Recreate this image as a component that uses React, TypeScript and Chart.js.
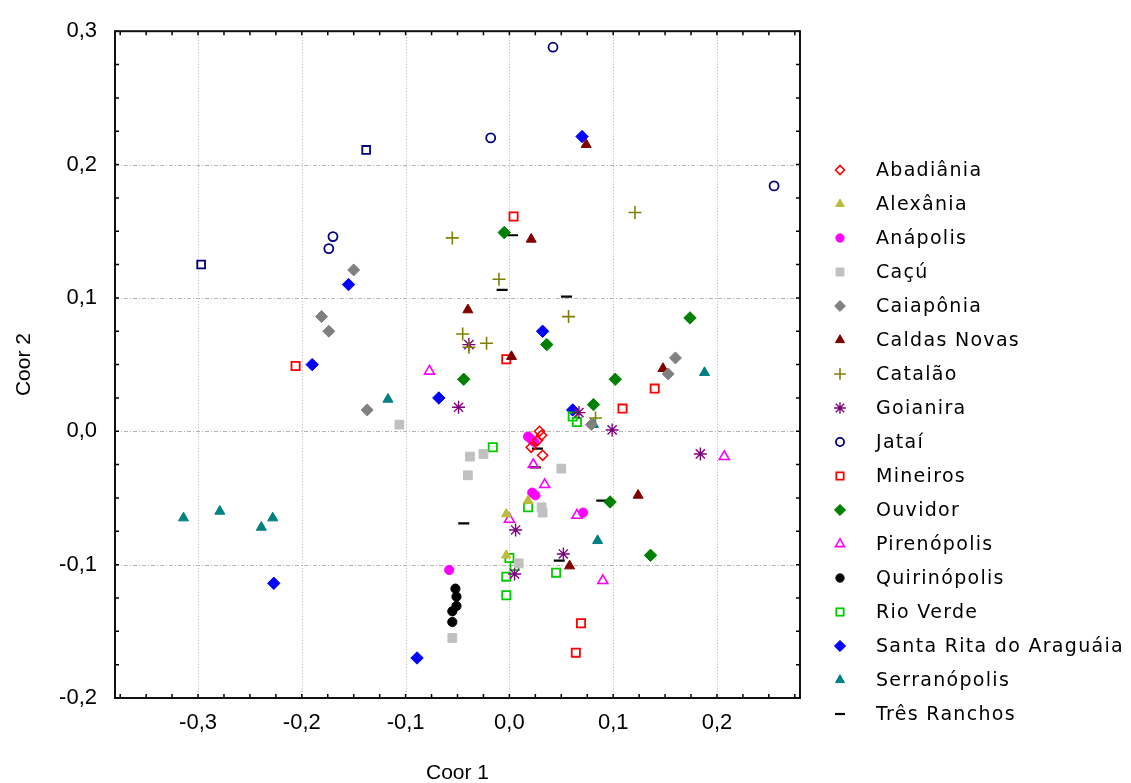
import React, { useEffect, useRef } from 'react';
import { Chart, registerables } from 'chart.js';
import { drawPoint } from 'chart.js/helpers';

Chart.register(...registerables);

// ---- axis ticks ----
const xTicks = [-0.3, -0.2, -0.1, 0, 0.1, 0.2];
const yTicks = [-0.2, -0.1, 0, 0.1, 0.2, 0.3];

// ---- series values [Coor 1, Coor 2] ----
const abadiania = [[0.029, 0.0], [0.031, -0.003], [0.027, -0.007], [0.021, -0.012], [0.032, -0.018]];
const alexania = [[-0.003, -0.062], [-0.003, -0.093], [0.018, -0.052]];
const anapolis = [[0.018, -0.004], [0.021, -0.006], [0.024, -0.008], [0.022, -0.046], [0.025, -0.048], [0.071, -0.061], [-0.058, -0.104]];
const cacu = [[-0.106, 0.005], [-0.038, -0.019], [-0.025, -0.017], [-0.04, -0.033], [0.05, -0.028], [0.031, -0.057], [0.032, -0.061], [0.009, -0.099], [-0.055, -0.155]];
const caiaponia = [[-0.15, 0.121], [-0.181, 0.086], [-0.174, 0.075], [-0.137, 0.016], [0.16, 0.055], [0.153, 0.043], [0.079, 0.005]];
const caldasNovas = [[0.074, 0.215], [0.021, 0.144], [-0.04, 0.091], [0.002, 0.056], [0.148, 0.047], [0.124, -0.048], [0.058, -0.101]];
const catalao = [[-0.055, 0.145], [-0.01, 0.114], [0.121, 0.164], [0.057, 0.086], [-0.045, 0.073], [-0.039, 0.063], [-0.022, 0.066], [0.083, 0.01]];
const goianira = [[-0.049, 0.018], [-0.039, 0.065], [0.099, 0.001], [0.184, -0.017], [0.006, -0.074], [0.052, -0.092], [0.005, -0.107], [0.067, 0.014]];
const jatai = [[0.042, 0.288], [-0.018, 0.22], [0.255, 0.184], [-0.17, 0.146], [-0.174, 0.137]];
const jataiSquares = [[-0.138, 0.211], [-0.297, 0.125]];
const mineiros = [[0.004, 0.161], [-0.206, 0.049], [-0.003, 0.054], [0.109, 0.017], [0.14, 0.032], [0.069, -0.144], [0.064, -0.166]];
const ouvidor = [[-0.005, 0.149], [0.174, 0.085], [0.036, 0.065], [0.102, 0.039], [0.081, 0.02], [-0.044, 0.039], [0.097, -0.053], [0.136, -0.093]];
const pirenopolis = [[-0.077, 0.045], [0.034, -0.04], [0.023, -0.025], [0.065, -0.063], [0.09, -0.112], [0.0, -0.066], [0.207, -0.019]];
const quirinopolis = [[-0.052, -0.118], [-0.051, -0.124], [-0.051, -0.131], [-0.055, -0.135], [-0.055, -0.143]];
const rioVerde = [[-0.016, -0.012], [0.065, 0.007], [0.061, 0.011], [0.018, -0.057], [0.0, -0.095], [0.005, -0.101], [-0.003, -0.109], [-0.003, -0.123], [0.045, -0.106]];
const santaRita = [[0.07, 0.221], [-0.155, 0.11], [-0.19, 0.05], [-0.227, -0.114], [-0.068, 0.025], [0.032, 0.075], [0.061, 0.016], [-0.089, -0.17]];
const serranopolis = [[-0.314, -0.065], [-0.279, -0.06], [-0.239, -0.072], [-0.228, -0.065], [-0.117, 0.024], [0.081, 0.005], [0.188, 0.044], [0.085, -0.082]];
const tresRanchos = [[0.003, 0.147], [-0.007, 0.106], [0.055, 0.101], [0.027, -0.013], [0.025, -0.027], [0.089, -0.052], [-0.044, -0.069], [0.048, -0.097]];

const toXY = (a: number[][]) => a.map(([x, y]) => ({ x, y }));
const OPEN = 'rgba(255,255,255,0)';

// label, data, style, color, filled, radius, borderWidth, inLegend
const series: any[] = [
  ['Abadiânia', abadiania, 'rectRot', '#ff0000', false, 5, 1.6, true],
  ['Alexânia', alexania, 'triangle', '#bcbc3c', true, 5.5, 1, true],
  ['Anápolis', anapolis, 'circle', '#ff00ff', true, 4.6, 1, true],
  ['Caçú', cacu, 'rect', '#c0c0c0', true, 6.2, 1, true],
  ['Caiapônia', caiaponia, 'rectRot', '#808080', true, 6, 1, true],
  ['Caldas Novas', caldasNovas, 'triangle', '#800000', true, 5.8, 1, true],
  ['Catalão', catalao, 'cross', '#808000', false, 6.5, 1.6, true],
  ['Goianira', goianira, 'star', '#800080', false, 6.5, 1.4, true],
  ['Jataí', jatai, 'circle', '#000080', false, 4.5, 1.8, true],
  ['Jataí ', jataiSquares, 'rect', '#000080', false, 5.5, 1.8, false],
  ['Mineiros', mineiros, 'rect', '#ff0000', false, 5.8, 1.8, true],
  ['Ouvidor', ouvidor, 'rectRot', '#008000', true, 6.2, 1, true],
  ['Pirenópolis', pirenopolis, 'triangle', '#ff00ff', false, 5.8, 1.6, true],
  ['Quirinópolis', quirinopolis, 'circle', '#000000', true, 4.6, 1, true],
  ['Rio Verde', rioVerde, 'rect', '#00cc00', false, 5.8, 1.8, true],
  ['Santa Rita do Araguáia', santaRita, 'rectRot', '#0000ff', true, 6.2, 1, true],
  ['Serranópolis', serranopolis, 'triangle', '#008080', true, 5.8, 1, true],
  ['Três Ranchos', tresRanchos, 'line', '#000000', false, 5.5, 2.2, true],
];

const fmt = (v: any) => {
  const r = Math.round(Number(v) * 10) / 10;
  return (r === 0 ? 0 : r).toFixed(1).replace('.', ',');
};

const framePlugin = {
  id: 'frame',
  beforeDatasetsDraw(chart: any) {
    const { ctx, chartArea: a, scales } = chart;
    const xs = scales.x, ys = scales.y;
    ctx.save();
    ctx.strokeStyle = '#b4b4b4';
    ctx.lineWidth = 1;
    ctx.setLineDash([1, 2]);
    xTicks.forEach((v) => {
      const px = Math.round(xs.getPixelForValue(v)) + 0.5;
      ctx.beginPath(); ctx.moveTo(px, a.top); ctx.lineTo(px, a.bottom); ctx.stroke();
    });
    ctx.setLineDash([4, 2, 1, 2]);
    yTicks.slice(1, -1).forEach((v) => {
      const py = Math.round(ys.getPixelForValue(v)) + 0.5;
      ctx.beginPath(); ctx.moveTo(a.left, py); ctx.lineTo(a.right, py); ctx.stroke();
    });
    ctx.restore();
  },
  afterDatasetsDraw(chart: any) {
    const { ctx, chartArea: a, scales } = chart;
    const xs = scales.x, ys = scales.y;
    ctx.save();
    ctx.strokeStyle = '#000';
    ctx.lineWidth = 1.5;
    const L = 4;
    for (let k = -15; k <= 11; k++) {
      const px = xs.getPixelForValue(k * 0.025);
      ctx.beginPath();
      ctx.moveTo(px, a.bottom); ctx.lineTo(px, a.bottom - L);
      ctx.moveTo(px, a.top); ctx.lineTo(px, a.top + L);
      ctx.stroke();
    }
    for (let k = -8; k <= 12; k++) {
      const py = ys.getPixelForValue(k * 0.025);
      ctx.beginPath();
      ctx.moveTo(a.left, py); ctx.lineTo(a.left + L, py);
      ctx.moveTo(a.right, py); ctx.lineTo(a.right - L, py);
      ctx.stroke();
    }
    ctx.lineWidth = 2;
    ctx.strokeStyle = '#111';
    ctx.strokeRect(a.left, a.top, a.right - a.left, a.bottom - a.top);
    ctx.restore();
  },
};

const legendPlugin = {
  id: 'customLegend',
  afterDraw(chart: any) {
    const ctx = chart.ctx;
    let i = 0;
    chart.data.datasets.forEach((ds: any) => {
      if (!ds.inLegend) return;
      const y = 170 + i * 34;
      ctx.save();
      ctx.strokeStyle = ds.borderColor;
      ctx.fillStyle = ds.backgroundColor;
      ctx.lineWidth = ds.borderWidth;
      drawPoint(ctx, { pointStyle: ds.pointStyle, radius: ds.pointRadius * 0.9, borderWidth: ds.borderWidth, rotation: 0 } as any, 840, y);
      ctx.restore();
      ctx.save();
      ctx.font = '19px "DejaVu Sans"';
      try { (ctx as any).letterSpacing = '1.3px'; } catch (e) {}
      ctx.textBaseline = 'middle';
      ctx.textAlign = 'left';
      ctx.fillStyle = '#000';
      ctx.fillText(ds.label.trim(), 876, y + 1);
      ctx.restore();
      i++;
    });
  },
};

export default function App() {
  const ref = useRef<HTMLCanvasElement>(null);
  useEffect(() => {
    const tickFont = { family: '"Liberation Sans", Arial, sans-serif', size: 22 };
    const titleFont = { family: '"Liberation Sans", Arial, sans-serif', size: 21 };
    const chart = new Chart(ref.current as HTMLCanvasElement, {
      type: 'scatter',
      data: {
        datasets: series.map(([label, data, style, color, filled, r, bw, inLegend]) => ({
          label,
          data: toXY(data),
          pointStyle: style,
          pointRadius: r,
          pointHoverRadius: r,
          borderWidth: bw,
          borderColor: color,
          backgroundColor: filled ? color : OPEN,
          inLegend,
        })) as any,
      },
      options: {
        responsive: false,
        animation: false,
        events: [],
        layout: { padding: { left: 0, top: 28, right: 331, bottom: 0 } },
        plugins: { legend: { display: false }, tooltip: { enabled: false } },
        scales: {
          x: {
            type: 'linear',
            min: -0.38,
            max: 0.28,
            afterBuildTicks: (s: any) => { s.ticks = xTicks.map((v) => ({ value: v })); },
            afterFit: (s: any) => { s.height = 85; },
            grid: { display: false, drawTicks: false },
            border: { display: false },
            ticks: { padding: 12, font: tickFont, color: '#000', callback: fmt, maxRotation: 0, autoSkip: false },
            title: { display: true, text: 'Coor 1', font: titleFont, color: '#000', padding: { top: 0, bottom: -3 } },
          },
          y: {
            type: 'linear',
            min: -0.2,
            max: 0.3,
            afterBuildTicks: (s: any) => { s.ticks = yTicks.map((v) => ({ value: v })); },
            afterFit: (s: any) => { s.width = 115; },
            grid: { display: false, drawTicks: false },
            border: { display: false },
            ticks: { padding: 18, font: tickFont, color: '#000', callback: fmt, autoSkip: false },
            title: { display: true, text: 'Coor 2', font: titleFont, color: '#000', padding: { top: 12, bottom: 0 } },
          },
        },
      } as any,
      plugins: [framePlugin, legendPlugin],
    });
    return () => chart.destroy();
  }, []);
  return (
    <div style={{ position: 'absolute', left: 0, top: 0, width: 1131, height: 783, background: '#fff' }}>
      <canvas ref={ref} width={1131} height={783} style={{ display: 'block' }} />
    </div>
  );
}
